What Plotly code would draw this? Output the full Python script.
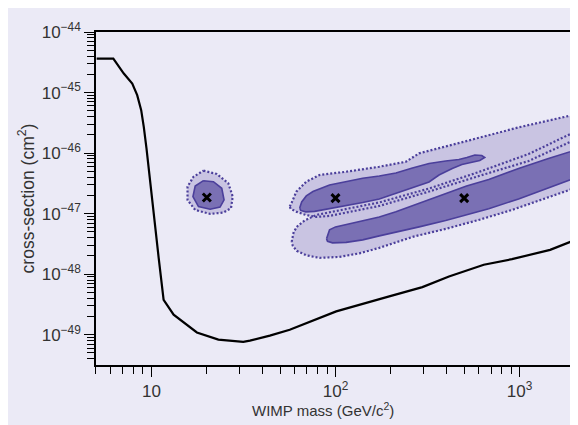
import plotly.graph_objects as go

# ---------------- data ----------------
limit_mass = [5.04, 6.21, 7.08, 7.87, 8.37, 8.80, 9.09, 9.40, 10.95, 11.65, 13.2, 17.66,
              23.11, 31.54, 34.28, 43.98, 56.4, 100.9, 195.9, 296.4, 413.3, 639, 908.6, 1465, 2008]
limit_xsec = [3.64e-45, 3.64e-45, 2.06e-45, 1.41e-45, 9.05e-46, 5.12e-46, 2.72e-46, 1.21e-46,
              1.86e-48, 3.78e-49, 2.14e-49, 1.09e-49, 8.29e-50, 7.60e-50, 7.98e-50, 9.65e-50,
              1.21e-49, 2.43e-49, 4.29e-49, 6.12e-49, 9.16e-49, 1.43e-48, 1.77e-48, 2.52e-48, 3.69e-48]

best_fit_mass = [20, 100, 500]
best_fit_xsec = [1.85e-47, 1.8e-47, 1.8e-47]

# 20 GeV region
m20_outer_mass = [19.17, 22.65, 26.17, 27.65, 27.06, 24.59, 20.84, 17.29, 15.71, 15.71, 16.93]
m20_outer_xsec = [5.12e-47, 4.52e-47, 3.17e-47, 1.91e-47, 1.23e-47, 1.04e-47, 9.9e-48, 1.15e-47,
                  1.68e-47, 2.79e-47, 4.07e-47]
m20_inner_mass = [19.17, 21.72, 24.11, 24.81, 23.6, 20.84, 18.02, 16.81, 17.29]
m20_inner_xsec = [3.5e-47, 3.37e-47, 2.62e-47, 1.68e-47, 1.28e-47, 1.18e-47, 1.31e-47, 1.91e-47, 2.86e-47]

# 100 GeV region
m100_outer_mass = [56.4, 57.6, 61.3, 69.4, 81.9, 114.2, 172.9, 241.1, 284.6, 430.7, 652.5, 987.6,
                   1495, 2008, 2600, 2600, 1118.6, 600.2, 322.3, 172.9, 92.8, 78.7, 68.9, 61.6, 57.1]
m100_outer_xsec = [1.31e-47, 1.48e-47, 2.31e-47, 3.37e-47, 4.35e-47, 4.92e-47, 5.95e-47, 7.20e-47,
                   9.90e-47, 1.36e-46, 1.91e-46, 2.66e-46, 3.60e-46, 4.40e-46, 5.2e-46, 2.4e-46,
                   7.39e-47, 4.18e-47, 2.32e-47, 1.34e-47, 9.17e-48, 8.82e-48, 9.52e-48, 1.07e-47, 1.20e-47]
m100_inner_mass = [63.9, 65.5, 69.4, 75.4, 92.8, 114.2, 140.5, 172.9, 212.9, 261.7, 322.3, 396.7,
                   468.1, 517, 571.3, 623.0, 646.8, 607.7, 543.5, 485.9, 430.7, 365.0, 322.3, 261.7,
                   212.9, 172.9, 140.5, 114.2, 92.8, 77.0, 68.9, 64.7]
m100_inner_xsec = [1.24e-47, 1.56e-47, 1.96e-47, 2.32e-47, 2.97e-47, 3.40e-47, 3.83e-47, 4.18e-47,
                   4.69e-47, 5.67e-47, 6.72e-47, 7.39e-47, 7.82e-47, 8.44e-47, 9.28e-47, 9.11e-47,
                   8.44e-47, 7.53e-47, 6.98e-47, 6.47e-47, 5.56e-47, 4.35e-47, 3.33e-47, 2.70e-47,
                   2.17e-47, 1.75e-47, 1.53e-47, 1.37e-47, 1.22e-47, 1.09e-47, 1.07e-47, 1.13e-47]

# 500 GeV region
m500_outer_mass = [57.8, 59.3, 62.3, 68.0, 78.7, 92.8, 172.9, 322.3, 600.2, 1118.6, 2008, 2600,
                   2600, 2008, 1377, 908.6, 600.2, 396.7, 261.7, 172.9, 134.8, 105.1, 81.9, 69.4, 61.6, 58.6]
m500_outer_xsec = [3.42e-48, 5.00e-48, 6.27e-48, 7.72e-48, 9.52e-48, 1.05e-47, 1.53e-47, 2.60e-47,
                   4.87e-47, 9.64e-47, 2.25e-46, 3.3e-46, 3.5e-47, 2.65e-47, 1.75e-47, 1.15e-47,
                   7.87e-48, 5.60e-48, 4.13e-48, 2.72e-48, 2.21e-48, 1.93e-48, 1.86e-48, 2.05e-48,
                   2.43e-48, 2.94e-48]
m500_inner_mass = [89.4, 92.8, 100, 114.2, 140.5, 172.9, 212.9, 261.7, 322.3, 396.7, 515.1, 679.8,
                   987.6, 1435, 2008, 2600, 2600, 2008, 1435, 987.6, 679.8, 515.1, 396.7, 284.6,
                   212.9, 172.9, 140.5, 114.2, 96.3, 90.5]
m500_inner_xsec = [3.83e-48, 5.39e-48, 6.04e-48, 6.64e-48, 7.58e-48, 8.82e-48, 1.07e-47, 1.34e-47,
                   1.68e-47, 2.15e-47, 2.86e-47, 3.66e-47, 5.56e-47, 8.13e-47, 1.12e-46, 1.44e-46,
                   5.2e-47, 3.88e-47, 2.65e-47, 1.75e-47, 1.20e-47, 9.52e-48, 7.72e-48, 6.04e-48,
                   5.00e-48, 4.29e-48, 3.69e-48, 3.35e-48, 3.29e-48, 3.48e-48]

x_tick_vals = [10, 100, 1000]
x_tick_text = ["10", "10<sup>2</sup>", "10<sup>3</sup>"]
y_tick_vals = [1e-49, 1e-48, 1e-47, 1e-46, 1e-45, 1e-44]
y_tick_text = ["10<sup>\u221249</sup>", "10<sup>\u221248</sup>", "10<sup>\u221247</sup>",
               "10<sup>\u221246</sup>", "10<sup>\u221245</sup>", "10<sup>\u221244</sup>"]
x_title = "WIMP mass (GeV/c<sup>2</sup>)"
y_title = "cross-section (cm<sup>2</sup>)"

# ---------------- styling ----------------
BG = "#EBEAF6"
LIGHT = "#C9C4E2"
DARK = "#7A70B4"
EDGE = "#4B3F9B"
FONT = "Liberation Sans, Arial, sans-serif"
TXT = "#333333"

def closed(a):
    return list(a) + [a[0]]

fig = go.Figure()

outer = [(m20_outer_mass, m20_outer_xsec), (m100_outer_mass, m100_outer_xsec),
         (m500_outer_mass, m500_outer_xsec)]
inner = [(m20_inner_mass, m20_inner_xsec), (m100_inner_mass, m100_inner_xsec),
         (m500_inner_mass, m500_inner_xsec)]

for mx, sy in outer:
    fig.add_trace(go.Scatter(x=closed(mx), y=closed(sy), mode="lines", fill="toself",
                             fillcolor=LIGHT, line=dict(width=0), hoverinfo="skip"))
for mx, sy in outer:
    fig.add_trace(go.Scatter(x=closed(mx), y=closed(sy), mode="lines",
                             line=dict(color=EDGE, width=2.2, dash="2px,2px"), hoverinfo="skip"))
for mx, sy in inner:
    fig.add_trace(go.Scatter(x=closed(mx), y=closed(sy), mode="lines", fill="toself",
                             fillcolor=DARK, line=dict(color=EDGE, width=1.6), hoverinfo="skip"))

fig.add_trace(go.Scatter(x=limit_mass, y=limit_xsec, mode="lines",
                         line=dict(color="black", width=2.2), hoverinfo="skip"))
fig.add_trace(go.Scatter(x=best_fit_mass, y=best_fit_xsec, mode="markers",
                         marker=dict(symbol="x-thin", size=8, line=dict(color="black", width=3)),
                         hoverinfo="skip"))

minor_x = [d * 10 ** e for e in range(0, 4) for d in range(2, 10)]
minor_y = [d * 10.0 ** e for e in range(-50, -44) for d in range(2, 10)]

fig.update_layout(
    width=578, height=425,
    margin=dict(l=88, r=9, t=24, b=68),
    paper_bgcolor=BG, plot_bgcolor=BG,
    showlegend=False,
    font=dict(family=FONT, color=TXT, size=15),
    annotations=[dict(text=x_title, xref="paper", yref="paper", x=0.474, y=-0.135,
                      xanchor="center", yanchor="middle", showarrow=False,
                      font=dict(size=15, color=TXT, family=FONT))],
)
fig.update_xaxes(type="log", range=[0.699, 3.301], showgrid=False, zeroline=False,
                 showline=True, linecolor="black", linewidth=1.5, mirror=True,
                 ticks="outside", ticklen=10, tickcolor="black", tickwidth=1,
                 tickmode="array", tickvals=x_tick_vals, ticktext=x_tick_text,
                 tickfont=dict(size=17, color=TXT, family=FONT),
                 minor=dict(ticks="outside", ticklen=7, tickcolor="black", tickwidth=1,
                            tickmode="array", tickvals=minor_x, showgrid=False))
fig.update_yaxes(type="log", range=[-49.5, -44], showgrid=False, zeroline=False,
                 showline=True, linecolor="black", linewidth=1.5, mirror=True,
                 ticks="outside", ticklen=10, tickcolor="black", tickwidth=1,
                 tickmode="array", tickvals=y_tick_vals, ticktext=y_tick_text,
                 tickfont=dict(size=17, color=TXT, family=FONT),
                 minor=dict(ticks="outside", ticklen=7, tickcolor="black", tickwidth=1,
                            tickmode="array", tickvals=minor_y, showgrid=False),
                 title=dict(text=y_title, font=dict(size=17.5, color=TXT), standoff=3))

fig.write_html("out.html")
